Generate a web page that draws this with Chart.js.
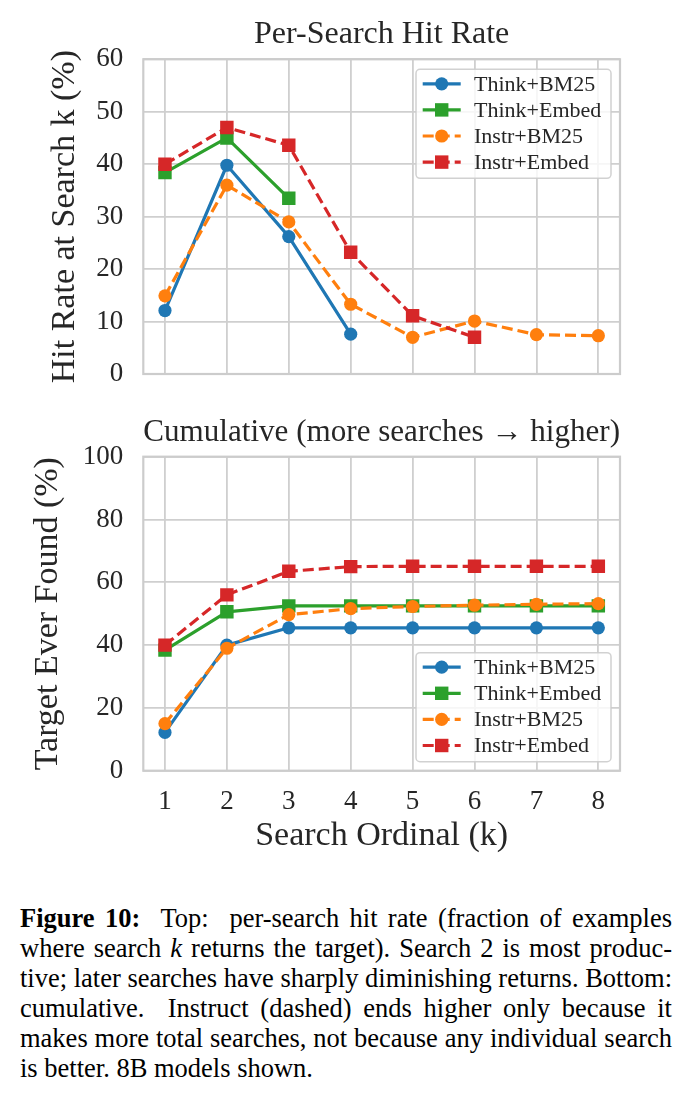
<!DOCTYPE html>
<html>
<head>
<meta charset="utf-8">
<title>Figure 10</title>
<script src="https://cdn.jsdelivr.net/npm/chart.js@4.4.1/dist/chart.umd.min.js"></script>
<style>
    html, body { margin: 0; padding: 0; background: #fff; }
    body { width: 691px; height: 1097px; position: relative; overflow: hidden; }
    #top-chart { position: absolute; left: 0; top: 0; }
    #cum-chart { position: absolute; left: 0; top: 400px; }
    #caption {
        position: absolute; left: 20px; top: 903px; width: 652px;
        font-family: "Liberation Serif", serif; font-size: 26.5px; line-height: 30px; color: #000;
    }
    #caption div { text-align: justify; text-align-last: justify; white-space: nowrap; }
    #caption div.last { text-align-last: left; }
</style>
</head>
<body>
<canvas id="top-chart" width="691" height="400"></canvas>
<canvas id="cum-chart" width="691" height="470"></canvas>
<div id="caption">
    <div><b>Figure 10:</b>&nbsp; Top:&nbsp; per-search hit rate (fraction of examples</div>
    <div>where search <i>k</i> returns the target). Search 2 is most produc-</div>
    <div>tive; later searches have sharply diminishing returns. Bottom:</div>
    <div>cumulative.&nbsp; Instruct (dashed) ends higher only because it</div>
    <div>makes more total searches, not because any individual search</div>
    <div class="last">is better. 8B models shown.</div>
</div>
<script>
"use strict";

// Search ordinal k (shared x axis)
const ordinals = [1, 2, 3, 4, 5, 6, 7, 8];
const seriesNames = ['Think+BM25', 'Think+Embed', 'Instr+BM25', 'Instr+Embed'];

// Per-search hit rate (%) - series end where the model stops searching
const thinkBm25Hit = [12.1, 39.8, 26.2, 7.6];
const thinkEmbedHit = [38.4, 45.0, 33.5];
const instrBm25Hit = [14.9, 36.0, 29.0, 13.3, 7.0, 10.1, 7.5, 7.3];
const instrEmbedHit = [40.0, 47.0, 43.6, 23.2, 11.1, 7.0];

// Cumulative: target ever found (%)
const thinkBm25Cum = [12.2, 40.0, 45.5, 45.5, 45.5, 45.5, 45.5, 45.5];
const thinkEmbedCum = [38.4, 50.6, 52.5, 52.5, 52.5, 52.5, 52.5, 52.5];
const instrBm25Cum = [15.0, 39.0, 49.7, 51.6, 52.3, 52.7, 53.0, 53.2];
const instrEmbedCum = [40.0, 56.0, 63.5, 65.0, 65.1, 65.1, 65.1, 65.1];

// Tick labels
const hitTicks = [0, 10, 20, 30, 40, 50, 60];
const cumTicks = [0, 20, 40, 60, 80, 100];

// Styles (tab10 palette, dashed = Instruct)
const colors = ['#1f77b4', '#2ca02c', '#ff7f0e', '#d62728'];
const dashed = [false, false, true, true];
const markers = ['circle', 'rect', 'circle', 'rect'];

const textColor = '#262626';
const gridColor = '#cfcfcf';
const serif = '"Liberation Serif", serif';

Chart.defaults.font.family = serif;
Chart.defaults.color = textColor;

function buildDatasets(seriesList) {
    return seriesList.map((values, i) => ({
        label: seriesNames[i],
        data: values.map((v, j) => ({ x: ordinals[j], y: v })),
        borderColor: colors[i],
        backgroundColor: colors[i],
        borderWidth: 3.2,
        borderDash: dashed[i] ? [11, 5] : [],
        borderJoinStyle: 'round',
        pointStyle: markers[i],
        pointRadius: markers[i] === 'rect' ? 9.5 : 6.6,
        pointHoverRadius: markers[i] === 'rect' ? 9.5 : 6.6,
        pointBorderWidth: 0,
        order: seriesList.length - 1 - i, // later series drawn on top
        tension: 0,
        fill: false
    }));
}

// light grey frame around the plot area (seaborn whitegrid)
const frame = {
    id: 'frame',
    beforeDatasetsDraw(chart) {
        const { ctx, chartArea: a } = chart;
        ctx.save();
        ctx.strokeStyle = '#cccccc';
        ctx.lineWidth = 2.2;
        ctx.strokeRect(a.left, a.top, a.right - a.left, a.bottom - a.top);
        ctx.restore();
    }
};

// matplotlib-style legend box inside the axes
const legendBox = {
    id: 'legendBox',
    afterDraw(chart, args, opts) {
        const { ctx, chartArea: a } = chart;
        const w = 195, h = 109;
        const x = a.right - 9 - w;
        const y = opts.corner === 'lower' ? a.bottom - 9 - h : a.top + 10;
        ctx.save();
        ctx.beginPath();
        ctx.roundRect(x, y, w, h, 4);
        ctx.fillStyle = 'rgba(255,255,255,0.8)';
        ctx.fill();
        ctx.strokeStyle = 'rgba(204,204,204,0.9)';
        ctx.lineWidth = 1.5;
        ctx.stroke();
        chart.data.datasets.forEach((ds, i) => {
            const cy = y + 14.5 + i * 26.1;
            ctx.beginPath();
            ctx.setLineDash(ds.borderDash);
            ctx.strokeStyle = ds.borderColor;
            ctx.lineWidth = ds.borderWidth;
            ctx.moveTo(x + 6.7, cy);
            ctx.lineTo(x + 44.7, cy);
            ctx.stroke();
            ctx.setLineDash([]);
            ctx.fillStyle = ds.backgroundColor;
            Chart.helpers.drawPoint(ctx, { pointStyle: ds.pointStyle, radius: ds.pointRadius, borderWidth: 0, rotation: 0 }, x + 25.7, cy);
            ctx.fillStyle = textColor;
            ctx.font = '22px ' + serif;
            ctx.textBaseline = 'middle';
            ctx.textAlign = 'left';
            ctx.fillText(ds.label, x + 58, cy + 1);
        });
        ctx.restore();
    }
};

function makeOptions(cfg) {
    return {
        responsive: false,
        animation: false,
        layout: { padding: { left: 0, right: 71, top: 0, bottom: 0 } },
        plugins: {
            legend: { display: false },
            tooltip: { enabled: false },
            title: {
                display: true,
                text: cfg.title,
                fullSize: false,
                color: textColor,
                font: { size: 32, weight: 'normal' },
                padding: { top: cfg.titleTop, bottom: cfg.titleBottom }
            },
            legendBox: { corner: cfg.corner }
        },
        scales: {
            x: {
                type: 'linear',
                min: 0.65,
                max: 8.35,
                afterBuildTicks: s => { s.ticks = ordinals.map(v => ({ value: v })); },
                afterFit: s => { s.height = cfg.xHeight; s.paddingLeft = 0; s.paddingRight = 0; },
                grid: { color: gridColor, lineWidth: 1.8, drawTicks: false },
                border: { display: false },
                ticks: { display: cfg.showX, padding: 14.6, font: { size: 27 }, color: textColor, callback: v => v },
                title: {
                    display: cfg.showX,
                    text: 'Search Ordinal (k)',
                    color: textColor,
                    font: { size: 34 },
                    padding: { top: 0, bottom: 13.6 }
                }
            },
            y: {
                min: cfg.ticks[0],
                max: cfg.ticks[cfg.ticks.length - 1],
                afterBuildTicks: s => { s.ticks = cfg.ticks.map(v => ({ value: v })); },
                // fixed axis width; drop label overhang padding so the plot box is exact
                afterFit: s => { s.width = 143.3; s.paddingTop = 0; s.paddingBottom = 0; },
                grid: { color: gridColor, lineWidth: 1.8, drawTicks: false },
                border: { display: false },
                ticks: { padding: 20, font: { size: 27 }, color: textColor, callback: v => v },
                title: {
                    display: true,
                    text: cfg.yTitle,
                    color: textColor,
                    font: { size: 34 },
                    padding: { top: cfg.yTitleTop, bottom: 0 }
                }
            }
        }
    };
}

new Chart(document.getElementById('top-chart'), {
    type: 'line',
    data: { datasets: buildDatasets([thinkBm25Hit, thinkEmbedHit, instrBm25Hit, instrEmbedHit]) },
    options: makeOptions({
        title: 'Per-Search Hit Rate',
        titleTop: 15.8, titleBottom: 5.1,
        corner: 'upper',
        xHeight: 26, showX: false,
        ticks: hitTicks,
        yTitle: 'Hit Rate at Search k (%)',
        yTitleTop: 44.6
    }),
    plugins: [frame, legendBox]
});

new Chart(document.getElementById('cum-chart'), {
    type: 'line',
    data: { datasets: buildDatasets([thinkBm25Cum, thinkEmbedCum, instrBm25Cum, instrEmbedCum]) },
    options: makeOptions({
        title: 'Cumulative (more searches \u2192 higher)',
        titleTop: 13.8, titleBottom: 4.5,
        corner: 'lower',
        xHeight: 99.3, showX: true,
        ticks: cumTicks,
        yTitle: 'Target Ever Found (%)',
        yTitleTop: 27.6
    }),
    plugins: [frame, legendBox]
});
</script>
</body>
</html>
